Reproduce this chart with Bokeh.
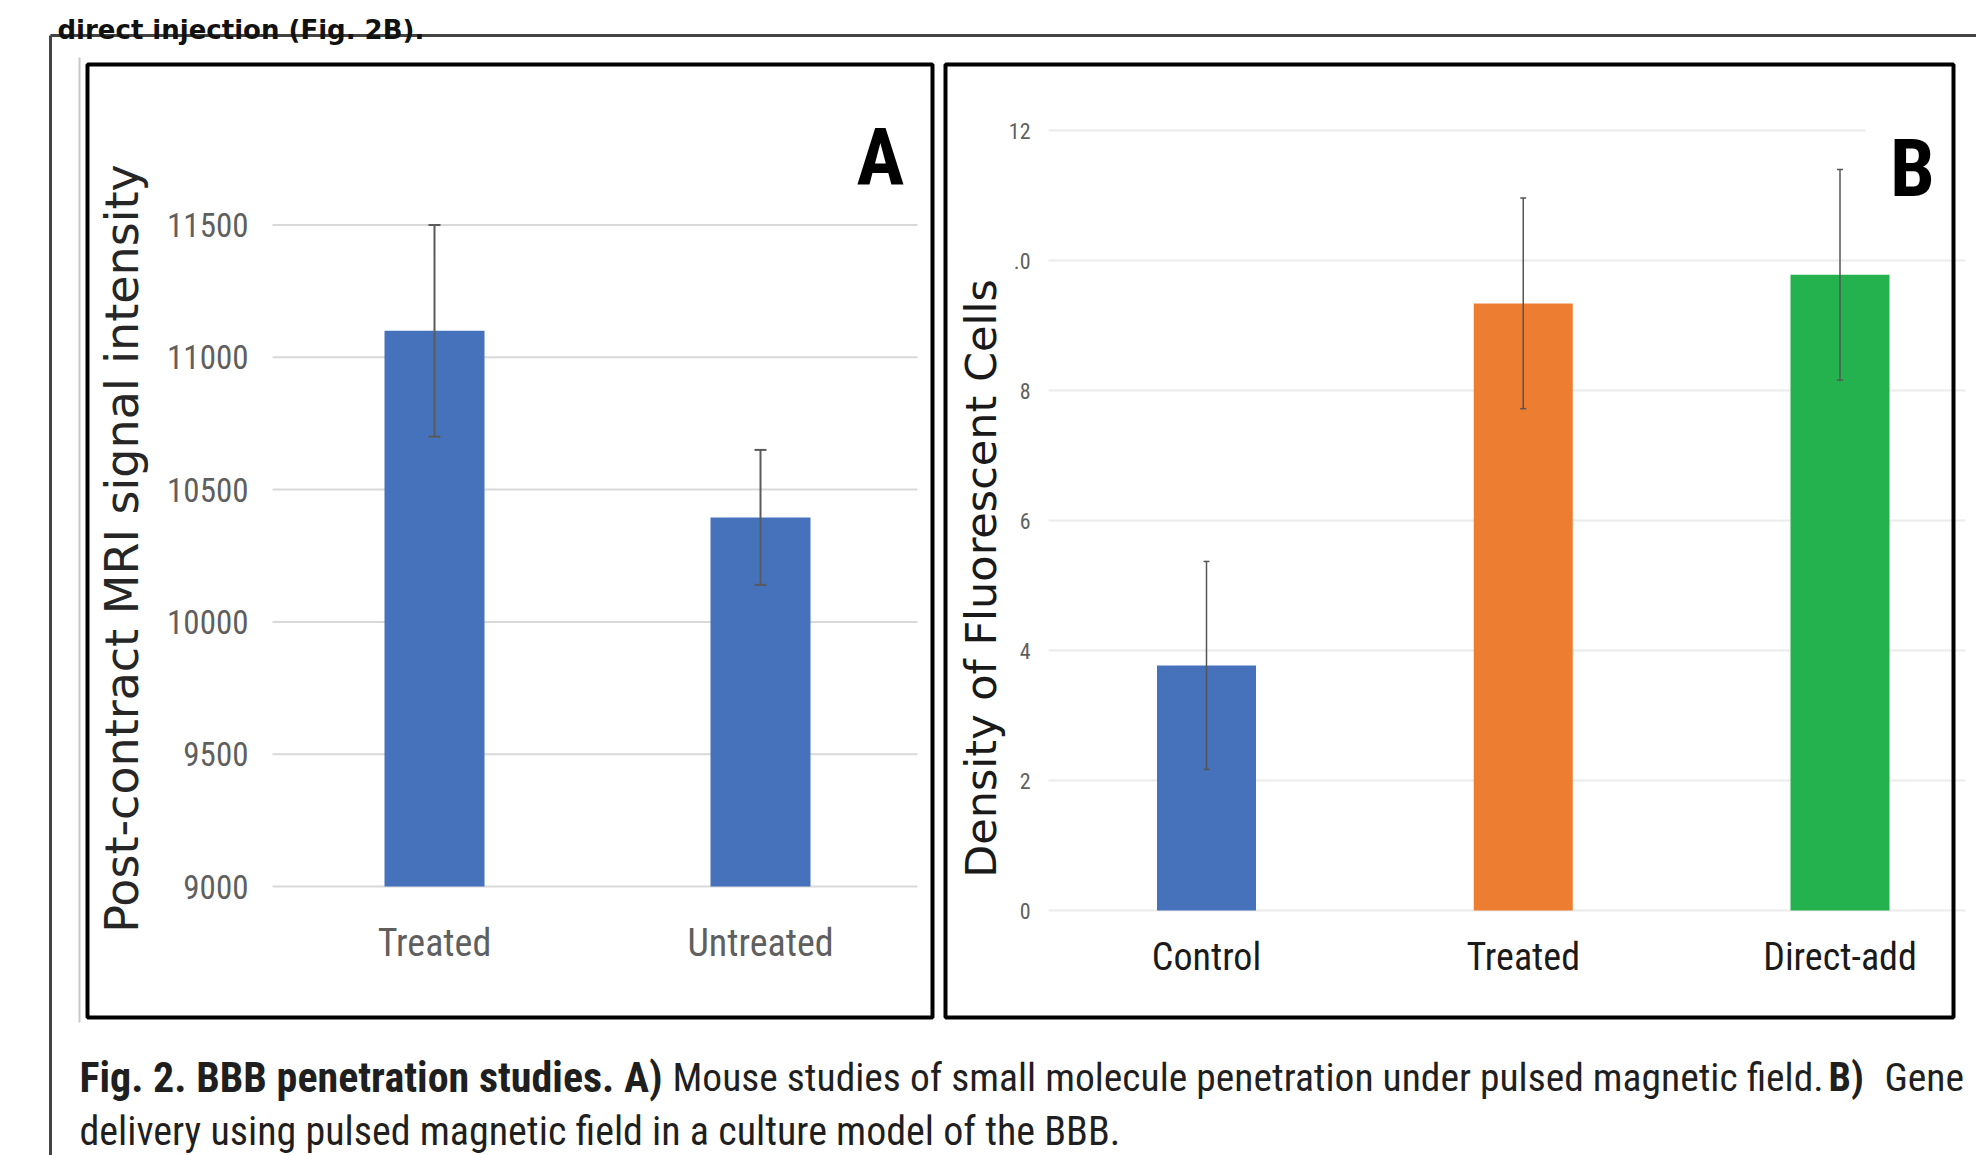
import math
from bokeh.plotting import figure
from bokeh.models import (Range1d, LinearAxis, FixedTicker, Whisker, TeeHead,
                          ColumnDataSource, Label)
from bokeh.embed import file_html
from bokeh.resources import INLINE

# ---------------- data ----------------
A_categories = ["Treated", "Untreated"]
A_values = [11100, 10395]
A_errors = [400, 255]
A_ticks = [9000, 9500, 10000, 10500, 11000, 11500]
A_tick_labels = ["9000", "9500", "10000", "10500", "11000", "11500"]
A_ylabel = "Post-contract MRI signal intensity"

B_categories = ["Control", "Treated", "Direct-add"]
B_values = [3.77, 9.34, 9.78]
B_errors = [1.60, 1.62, 1.62]
B_colors = ["#4672BB", "#ED7D31", "#24B24F"]
B_ticks = [0, 2, 4, 6, 8, 10, 12]
B_tick_labels = ["0", "2", "4", "6", "8", ".0", "12"]
B_ylabel = "Density of Fluorescent Cells"

top_text = "direct injection (Fig. 2B)."
caption_bold_1 = "Fig. 2. BBB penetration studies. A)"
caption_reg_1 = "Mouse studies of small molecule penetration under pulsed magnetic field."
caption_bold_2 = "B)"
caption_reg_2 = "Gene"
caption_line_2 = "delivery using pulsed magnetic field in a culture model of the BBB."

# ---------------- layout (page pixel coordinates) ----------------
W, H = 1976, 1155
PX0, PX1 = 0, W
PY0, PY1 = 0, H

NARROW = "Roboto Condensed, Roboto, sans-serif"
WIDE = "DejaVu Sans"


def lin(v0, p0, v1, p1):
    return lambda p: v0 + (p - p0) * (v1 - v0) / (p1 - p0)


p = figure(width=W, height=H, x_range=Range1d(PX0, PX1), y_range=Range1d(PY1, PY0),
           x_axis_type=None, y_axis_type=None, output_backend="svg",
           toolbar_location=None, min_border=0, outline_line_color=None,
           background_fill_color="white", border_fill_color="white")
p.grid.visible = False

# panel A scales
xa = lin(0, 434, 1, 760)
ya = lin(9000, 886, 11500, 224.5)
p.extra_x_ranges["xa"] = Range1d(xa(PX0), xa(PX1))
p.extra_y_ranges["ya"] = Range1d(ya(PY1), ya(PY0))
# panel B scales
xb = lin(0, 1206, 1, 1522.75)
yb = lin(0, 910, 12, 130)
p.extra_x_ranges["xb"] = Range1d(xb(PX0), xb(PX1))
p.extra_y_ranges["yb"] = Range1d(yb(PY1), yb(PY0))

# ---------------- frames ----------------
p.segment(x0=[50, 50], y0=[35, 35], x1=[PX1 + 10, 50], y1=[35, PY1 + 10],
          line_color="#444444", line_width=3)
p.segment(x0=[79], y0=[57], x1=[79], y1=[1022], line_color="#c8c8c8", line_width=2)

# ---------------- panel A ----------------
p.segment(x0=[xa(272)] * len(A_ticks), y0=A_ticks, x1=[xa(917)] * len(A_ticks), y1=A_ticks,
          x_range_name="xa", y_range_name="ya", line_color="#d9d9d9", line_width=2)
A_idx = list(range(len(A_categories)))
p.vbar(x=A_idx, top=A_values, bottom=A_ticks[0], width=100 / 326,
       x_range_name="xa", y_range_name="ya", fill_color="#4672BB", line_color=None)
srcA = ColumnDataSource(dict(base=A_idx,
                             lower=[v - e for v, e in zip(A_values, A_errors)],
                             upper=[v + e for v, e in zip(A_values, A_errors)]))
p.add_layout(Whisker(source=srcA, base="base", lower="lower", upper="upper",
                     dimension="height", x_range_name="xa", y_range_name="ya",
                     level="overlay", line_color="#5a5a5a", line_width=2,
                     upper_head=TeeHead(size=12, line_color="#5a5a5a", line_width=2),
                     lower_head=TeeHead(size=12, line_color="#5a5a5a", line_width=2)))

ayA = LinearAxis(y_range_name="ya", ticker=FixedTicker(ticks=A_ticks),
                 major_label_overrides=dict(zip(A_ticks, A_tick_labels)),
                 fixed_location=262, major_label_standoff=14,
                 major_tick_out=0, major_tick_in=0, minor_tick_out=0, minor_tick_in=0,
                 axis_line_color=None, major_tick_line_color=None, minor_tick_line_color=None,
                 major_label_text_font=NARROW, major_label_text_font_size="33px",
                 major_label_text_color="#5f5f5f")
p.add_layout(ayA, "left")
axA = LinearAxis(x_range_name="xa", ticker=FixedTicker(ticks=A_idx),
                 major_label_overrides=dict(zip(A_idx, A_categories)),
                 fixed_location=886, major_label_standoff=34,
                 major_tick_out=0, major_tick_in=0, minor_tick_out=0, minor_tick_in=0,
                 axis_line_color=None, major_tick_line_color=None, minor_tick_line_color=None,
                 major_label_text_font=NARROW, major_label_text_font_size="38px",
                 major_label_text_color="#5f5f5f")
p.add_layout(axA, "below")

# ---------------- panel B ----------------
B_x1 = [xb(1965)] * (len(B_ticks) - 1) + [xb(1865)]
p.segment(x0=[xb(1048)] * len(B_ticks), y0=B_ticks, x1=B_x1, y1=B_ticks,
          x_range_name="xb", y_range_name="yb", line_color="#ebebeb", line_width=2)
B_idx = list(range(len(B_categories)))
p.vbar(x=B_idx, top=B_values, bottom=0, width=99 / 316.75, fill_color=B_colors,
       line_color=None, x_range_name="xb", y_range_name="yb")
srcB = ColumnDataSource(dict(base=B_idx,
                             lower=[v - e for v, e in zip(B_values, B_errors)],
                             upper=[v + e for v, e in zip(B_values, B_errors)]))
p.add_layout(Whisker(source=srcB, base="base", lower="lower", upper="upper",
                     dimension="height", x_range_name="xb", y_range_name="yb",
                     level="overlay", line_color="#555555", line_width=1.5,
                     upper_head=TeeHead(size=6, line_color="#555555", line_width=1.5),
                     lower_head=TeeHead(size=6, line_color="#555555", line_width=1.5)))
ayB = LinearAxis(y_range_name="yb", ticker=FixedTicker(ticks=B_ticks),
                 major_label_overrides=dict(zip(B_ticks, B_tick_labels)),
                 fixed_location=1040, major_label_standoff=10,
                 major_tick_out=0, major_tick_in=0, minor_tick_out=0, minor_tick_in=0,
                 axis_line_color=None, major_tick_line_color=None, minor_tick_line_color=None,
                 major_label_text_font=NARROW, major_label_text_font_size="22px",
                 major_label_text_color="#5f5f5f")
p.add_layout(ayB, "left")
axB = LinearAxis(x_range_name="xb", ticker=FixedTicker(ticks=B_idx),
                 major_label_overrides=dict(zip(B_idx, B_categories)),
                 fixed_location=910, major_label_standoff=24,
                 major_tick_out=0, major_tick_in=0, minor_tick_out=0, minor_tick_in=0,
                 axis_line_color=None, major_tick_line_color=None, minor_tick_line_color=None,
                 major_label_text_font=NARROW, major_label_text_font_size="38px",
                 major_label_text_color="#1a1a1a")
p.add_layout(axB, "below")

# panel boxes (drawn over grid lines)
p.quad(left=[87, 945], right=[932, 1953], top=[64, 64], bottom=[1017, 1017],
       fill_color=None, line_color="black", line_width=4)

# ---------------- texts ----------------
p.add_layout(Label(x=121, y=548, text=A_ylabel, angle=math.pi / 2,
                   text_align="center", text_baseline="middle",
                   text_font=WIDE, text_font_size="46px", text_color="#262626"))
p.add_layout(Label(x=980, y=578, text=B_ylabel, angle=math.pi / 2,
                   text_align="center", text_baseline="middle",
                   text_font=WIDE, text_font_size="43px", text_color="#1a1a1a"))
p.add_layout(Label(x=880, y=157, text="A", text_align="center", text_baseline="alphabetic",
                   text_font=NARROW, text_font_style="bold", text_font_size="80px",
                   text_color="black"))
p.add_layout(Label(x=1912, y=168, text="B", text_align="center", text_baseline="alphabetic",
                   text_font=NARROW, text_font_style="bold", text_font_size="80px",
                   text_color="black"))

p.add_layout(Label(x=57, y=29, text=top_text, text_baseline="alphabetic",
                   text_font=WIDE, text_font_style="bold", text_font_size="26px",
                   text_color="#111111"))

cap_y1, cap_y2 = 1077, 1131
cap_runs = [(79, caption_bold_1, "bold", "42px", cap_y1),
            (672, caption_reg_1, "normal", "39.5px", cap_y1),
            (1828, caption_bold_2, "bold", "40px", cap_y1),
            (1884, caption_reg_2, "normal", "39.5px", cap_y1),
            (79, caption_line_2, "normal", "40px", cap_y2)]
for x, t, style, size, y in cap_runs:
    p.add_layout(Label(x=x, y=y, text=t, text_baseline="alphabetic", text_align="left",
                       text_font=NARROW, text_font_style=style, text_font_size=size,
                       text_color="#1f1f1f"))

open("out.html", "w").write(file_html(p, INLINE))
